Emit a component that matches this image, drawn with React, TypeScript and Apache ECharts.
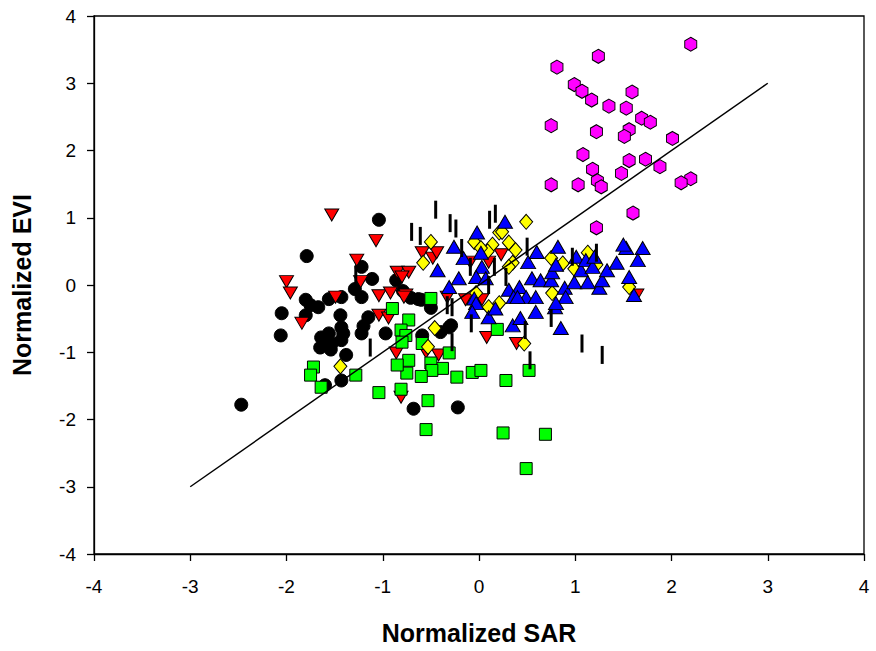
import React, { useEffect, useRef } from "react";
import * as echarts from "echarts";

const xTicks = [-4, -3, -2, -1, 0, 1, 2, 3, 4];
const yTicks = [-4, -3, -2, -1, 0, 1, 2, 3, 4];
const fitLine = [[-3, -3], [3, 3]];

const blackCircles = [
  [-1.04, 0.97], [-1.79, 0.43], [-1.22, 0.27], [-1.11, 0.09], [-0.86, 0.07], [-1.29, -0.06], [-1.22, -0.18],
  [-1.43, -0.18], [-1.56, -0.21], [-1.8, -0.22], [-1.67, -0.33], [-1.75, -0.3], [-1.8, -0.45], [-2.05, -0.42],
  [-2.06, -0.75], [-1.44, -0.45], [-1.43, -0.63], [-1.41, -0.72], [-1.43, -0.82], [-1.56, -0.72], [-1.64, -0.78],
  [-1.65, -0.93], [-1.58, -0.87], [-1.53, -0.87], [-1.54, -0.96], [-1.15, -0.48], [-1.2, -0.61], [-1.22, -0.72],
  [-0.97, -0.72], [-0.71, -0.19], [-0.6, -0.22], [-0.5, -0.34], [-0.31, -0.63], [-0.4, -0.7], [-0.59, -0.75],
  [-0.29, -0.6], [-0.63, -0.21], [-1.38, -1.04], [-1.43, -1.42], [-1.6, -1.49], [-2.47, -1.78], [-0.68, -1.84],
  [-0.22, -1.82], [-0.79, -0.09],
];

const redTriangles = [
  [-1.53, 1.04], [-1.07, 0.66], [-1.27, 0.37], [-1.23, 0.05], [-0.85, 0.19], [-0.73, 0.19], [-0.8, 0.12],
  [-2.0, 0.05], [-1.96, -0.12], [-1.49, -0.18], [-1.84, -0.57], [-1.04, -0.16], [-0.92, -0.12], [-0.76, -0.15],
  [-1.04, -0.45], [-0.94, -0.49], [-0.86, -1.01], [-0.59, 0.48], [-0.48, 0.4], [-0.44, 0.48], [-0.33, -0.18],
  [-0.42, -1.04], [-0.55, -1.0], [-0.81, -1.67], [-0.78, -0.18], [-0.14, -0.22], [0.03, -0.22], [0.1, 0.34],
  [0.23, 0.45], [0.08, -0.78], [0.39, -0.87], [-0.09, 0.34], [1.64, -0.15],
];

const greenSquares = [
  [-0.5, -0.2], [-0.9, -0.35], [-0.73, -0.52], [-0.81, -0.67], [-0.76, -0.75], [-0.8, -0.85], [-0.59, -0.87],
  [-0.31, -1.01], [-0.38, -1.24], [-0.5, -1.16], [-0.49, -1.27], [-0.6, -1.36], [-0.75, -1.31], [-0.73, -1.12],
  [-0.85, -1.19], [-1.28, -1.34], [-1.72, -1.22], [-1.75, -1.34], [-1.64, -1.52], [-1.04, -1.6], [-0.81, -1.55],
  [-0.53, -1.72], [-0.23, -1.37], [-0.07, -1.3], [0.02, -1.27], [0.19, -0.66], [0.28, -1.42], [0.52, -1.27],
  [-0.55, -2.15], [0.25, -2.2], [0.69, -2.22], [0.49, -2.73],
];

const yellowDiamonds = [
  [-0.5, 0.64], [-0.58, 0.33], [-0.46, -0.64], [-0.53, -0.92], [-1.44, -1.21], [0.49, 0.94], [-0.05, 0.64],
  [0.21, 0.78], [0.24, 0.79], [0.14, 0.6], [0.09, 0.5], [0.31, 0.63], [0.38, 0.52], [0.35, 0.33], [0.31, 0.27],
  [0.75, 0.4], [1.13, 0.48], [0.76, -0.12], [-0.03, -0.12], [0.21, -0.27], [0.1, -0.33], [0.47, -0.87],
  [1.56, -0.03], [0.87, 0.32], [0.99, 0.24], [1.22, 0.3], [0.02, 0.55],
];

const blueTriangles = [
  [0.27, 0.94], [-0.02, 0.78], [-0.26, 0.57], [-0.43, 0.22], [-0.16, 0.4], [0.02, 0.48], [0.03, 0.27],
  [-0.21, 0.1], [-0.03, 0.12], [0.07, 0.1], [-0.31, -0.03], [-0.05, -0.2], [-0.03, -0.27], [-0.07, -0.4],
  [0.1, -0.48], [0.17, -0.35], [0.35, -0.6], [0.43, -0.49], [0.59, -0.4], [0.79, -0.33], [0.85, -0.64],
  [0.51, 0.34], [0.6, 0.49], [0.82, 0.57], [0.31, -0.07], [0.42, -0.03], [0.36, -0.18], [0.49, -0.18],
  [0.59, -0.18], [0.55, 0.1], [0.64, 0.07], [0.75, 0.07], [0.76, 0.19], [0.8, 0.3], [0.89, -0.04],
  [0.9, -0.18], [0.99, 0.04], [1.06, 0.22], [1.01, 0.42], [1.11, 0.37], [1.18, 0.27], [1.2, 0.42],
  [1.13, 0.04], [1.25, -0.04], [1.28, 0.07], [1.33, 0.22], [1.43, 0.33], [1.53, 0.55], [1.7, 0.55],
  [1.65, 0.37], [1.56, 0.12], [1.61, -0.15], [0.8, -0.27], [0.4, -0.18], [1.5, 0.6],
];

const magentaHexagons = [
  [2.2, 3.58], [1.24, 3.4], [0.81, 3.24], [0.99, 2.98], [1.07, 2.88], [1.17, 2.75], [1.35, 2.66], [1.53, 2.63],
  [1.59, 2.87], [1.69, 2.48], [1.78, 2.42], [1.56, 2.31], [1.51, 2.21], [1.22, 2.28], [0.75, 2.37], [2.01, 2.18],
  [1.08, 1.94], [1.56, 1.85], [1.73, 1.87], [1.88, 1.76], [1.18, 1.72], [1.23, 1.55], [1.27, 1.46], [1.03, 1.49],
  [0.75, 1.49], [1.48, 1.66], [2.2, 1.58], [2.1, 1.52], [1.6, 1.07], [1.22, 0.85],
];

const verticalBars = [
  [-0.45, 1.12], [-0.7, 0.79], [-0.61, 0.73], [-0.3, 0.92], [-0.24, 0.84], [0.11, 0.97], [0.17, 1.06],
  [-0.18, 0.55], [0.5, 0.57], [1.22, 0.48], [-0.09, 0.27], [0.16, 0.27], [0.28, 0.12], [0.1, 0.0],
  [-0.28, -0.33], [-0.33, -0.3], [-0.08, -0.57], [0.48, -0.67], [-0.28, -0.85], [0.75, -0.49], [1.07, -0.87],
  [1.28, -1.04], [0.53, -1.12], [0.97, 0.42], [-1.28, 0.15], [-1.13, -0.93],
];

const HEX = "path://M0,-1 L0.866,-0.5 L0.866,0.5 L0,1 L-0.866,0.5 L-0.866,-0.5 Z";
const DOWN_TRI = "path://M0,0 L2,0 L1,1.75 Z";
const FONT = "Liberation Sans, Arial, sans-serif";

export default function App() {
  const ref = useRef<HTMLDivElement>(null);
  useEffect(() => {
    if (!ref.current) return;
    const chart = echarts.init(ref.current, null, { renderer: "svg" });
    const border = { borderColor: "#000", borderWidth: 1, opacity: 1 };
    const scatter = (name: string, data: number[][], symbol: string, size: any, color: string) => ({
      name,
      type: "scatter",
      data,
      symbol,
      symbolSize: size,
      itemStyle: { color, ...border },
      emphasis: { disabled: true },
    });
    const axisCommon = {
      type: "value",
      interval: 1,
      nameLocation: "middle",
      nameTextStyle: { fontSize: 25, fontWeight: "bold", color: "#000", fontFamily: FONT },
      axisLine: { show: true, onZero: false, lineStyle: { color: "#000", width: 1.3 } },
      axisTick: { show: true, inside: false, length: 7, lineStyle: { color: "#000", width: 1.3 } },
      splitLine: { show: false },
    };
    chart.setOption({
      animation: false,
      textStyle: { fontFamily: FONT },
      grid: {
        left: 94, top: 16, width: 770, height: 538,
        show: true, borderColor: "#000", borderWidth: 1.3, backgroundColor: "transparent",
        outerBoundsMode: "none", containLabel: false,
      },
      xAxis: {
        ...axisCommon,
        min: xTicks[0],
        max: xTicks[xTicks.length - 1],
        name: "Normalized SAR",
        nameGap: 66,
        axisLabel: { color: "#000", fontSize: 19, margin: 23, fontFamily: FONT },
      },
      yAxis: {
        ...axisCommon,
        min: yTicks[0],
        max: yTicks[yTicks.length - 1],
        name: "Normalized EVI",
        nameGap: 60,
        axisLabel: { color: "#000", fontSize: 19, margin: 18, fontFamily: FONT },
      },
      series: [
        scatter("circles", blackCircles, "circle", 13, "#000"),
        scatter("down", redTriangles, DOWN_TRI, [14, 12], "#ff0000"),
        scatter("squares", greenSquares, "rect", 12, "#00ff00"),
        scatter("diamonds", yellowDiamonds, "diamond", [13, 15], "#ffff00"),
        scatter("up", blueTriangles, "triangle", [15, 13], "#0000ff"),
        scatter("hex", magentaHexagons, HEX, [12, 14], "#ff00ff"),
        {
          name: "bars",
          type: "scatter",
          data: verticalBars,
          symbol: "rect",
          symbolSize: [3, 18],
          itemStyle: { color: "#000", opacity: 1 },
          emphasis: { disabled: true },
        },
        {
          name: "fit",
          type: "line",
          data: fitLine,
          symbol: "none",
          lineStyle: { color: "#000", width: 1.5 },
          emphasis: { disabled: true },
          z: 5,
        },
      ],
    });
    return () => chart.dispose();
  }, []);
  return <div ref={ref} style={{ position: "absolute", left: 0, top: 0, width: 876, height: 651 }} />;
}
